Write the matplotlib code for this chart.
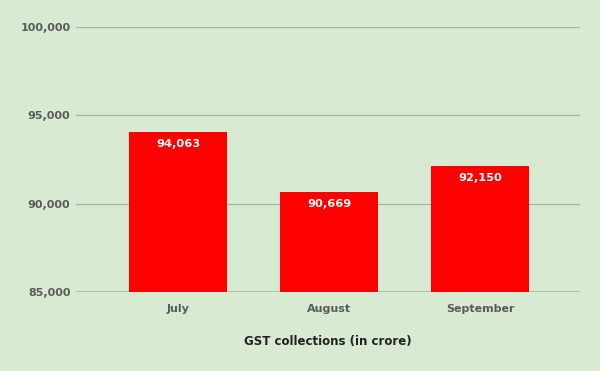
import matplotlib.pyplot as plt

months = ["July", "August", "September"]
collections = [94063, 90669, 92150]
yticks = [85000, 90000, 95000, 100000]

bg = "#d9ead3"
plt.rcParams['font.family'] = ['DejaVu Sans']

fig = plt.figure(figsize=(6, 3.71), dpi=100, facecolor=bg)
ax = fig.add_axes([76/600, 1-292/371, 504/600, 265/371], facecolor=bg)

x = list(range(len(months)))
bars = ax.bar(x, collections, width=0.65, color="#ff0000", zorder=3)
for b, v in zip(bars, collections):
    ax.annotate(f"{v:,}", (b.get_x() + b.get_width()/2, v), xytext=(0, -9),
                textcoords="offset points", ha="center", va="center",
                color="white", fontsize=8.2, fontweight="bold", zorder=4)

ax.set_ylim(85000, 100000)
ax.set_xlim(-0.675, 2.66)
ax.set_yticks(yticks)
ax.set_yticklabels([f"{t:,}" for t in yticks])
ax.set_xticks(x)
ax.set_xticklabels(months)
ax.grid(axis="y", color="#a3b59e", linewidth=0.9, zorder=0)
ax.axhline(85000, color="#a3b59e", linewidth=1.8, zorder=2)
for s in ax.spines.values():
    s.set_visible(False)
ax.tick_params(length=0, labelsize=8, labelcolor="#5a5a5a")
ax.tick_params(axis="y", pad=4)
ax.tick_params(axis="x", pad=9)
for lab in ax.get_xticklabels() + ax.get_yticklabels():
    lab.set_fontweight("bold")
ax.set_xlabel("GST collections (in crore)", fontsize=8.5, fontweight="bold",
              color="#222222", labelpad=15)

fig.savefig("out.png", dpi=100, facecolor=bg)
